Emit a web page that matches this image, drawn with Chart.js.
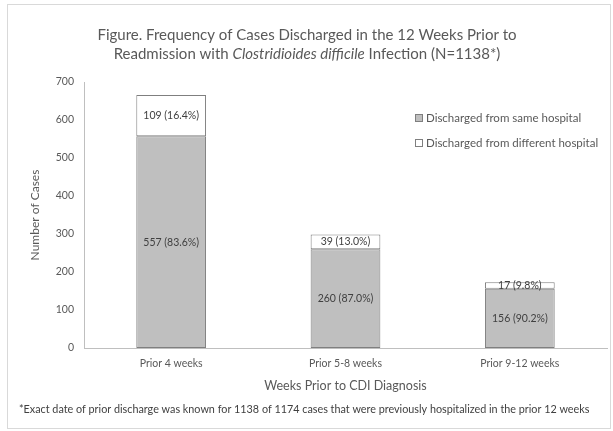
<!DOCTYPE html>
<html>
<head>
<meta charset="utf-8">
<script src="https://cdn.jsdelivr.net/npm/chart.js@4.4.1/dist/chart.umd.min.js"></script>
<style>
  html, body { margin: 0; padding: 0; background: #ffffff; }
  #wrap { width: 613px; height: 431px; position: relative; }
</style>
</head>
<body>
<div id="wrap"><canvas id="c" width="613" height="431"></canvas></div>
<script>
const categories = ['Prior 4 weeks', 'Prior 5-8 weeks', 'Prior 9-12 weeks'];
const sameHospital = [557, 260, 156];
const differentHospital = [109, 39, 17];
const samePct = ['83.6%', '87.0%', '90.2%'];
const differentPct = ['16.4%', '13.0%', '9.8%'];
const seriesNames = ['Discharged from same hospital', 'Discharged from different hospital'];
const yMax = 700;
const yStep = 100;
const titleLine1 = 'Figure. Frequency of Cases Discharged in the 12 Weeks Prior to';
const titleLine2 = [['Readmission with ', false], ['Clostridioides difficile', true], [' Infection (N=1138*)', false]];
const xTitle = 'Weeks Prior to CDI Diagnosis';
const yTitle = 'Number of Cases';
const footnote = '*Exact date of prior discharge was known for 1138 of 1174 cases that were previously hospitalized in the prior 12 weeks';

const FONT = 'Lato, "Open Sans", sans-serif';
const TXT = '#595959';

const framePlugin = {
  id: 'frame',
  beforeDraw(chart) {
    const ctx = chart.ctx;
    ctx.save();
    ctx.fillStyle = '#ffffff';
    ctx.fillRect(0, 0, chart.width, chart.height);
    ctx.strokeStyle = '#d9d9d9';
    ctx.lineWidth = 1;
    ctx.strokeRect(7.5, 4.5, 603, 424);
    ctx.restore();
  },
  afterDraw(chart) {
    const ctx = chart.ctx;
    ctx.save();
    // title
    ctx.fillStyle = TXT;
    ctx.textBaseline = 'middle';
    ctx.textAlign = 'center';
    ctx.font = '15px ' + FONT;
    ctx.fillText(titleLine1, 307, 35);
    let total = 0;
    titleLine2.forEach(([t, it]) => {
      ctx.font = (it ? 'italic ' : '') + '15px ' + FONT;
      total += ctx.measureText(t).width;
    });
    let x = 307 - total / 2;
    ctx.textAlign = 'left';
    titleLine2.forEach(([t, it]) => {
      ctx.font = (it ? 'italic ' : '') + '15px ' + FONT;
      ctx.fillText(t, x, 54);
      x += ctx.measureText(t).width;
    });
    // legend
    const ds = chart.data.datasets;
    ctx.font = '11.5px ' + FONT;
    ds.forEach((d, i) => {
      const ly = 118 + i * 25;
      ctx.fillStyle = d.backgroundColor;
      ctx.fillRect(415.5, ly - 3.5, 7, 7);
      ctx.strokeStyle = '#7f7f7f';
      ctx.lineWidth = 1;
      ctx.strokeRect(415.5, ly - 3.5, 7, 7);
      ctx.fillStyle = TXT;
      ctx.fillText(d.label, 426, ly);
    });
    // footnote
    ctx.fillStyle = '#404040';
    ctx.font = '10.8px ' + FONT;
    ctx.textAlign = 'left';
    ctx.fillText(footnote, 19, 410);
    ctx.restore();
  }
};

const labelPlugin = {
  id: 'segLabels',
  afterDatasetsDraw(chart) {
    const ctx = chart.ctx;
    ctx.save();
    ctx.font = '10.5px ' + FONT;
    ctx.fillStyle = '#404040';
    ctx.textAlign = 'center';
    ctx.textBaseline = 'middle';
    chart.data.datasets.forEach((d, di) => {
      const meta = chart.getDatasetMeta(di);
      meta.data.forEach((el, i) => {
        const p = el.getProps(['x', 'y', 'base'], true);
        const txt = d.data[i] + ' (' + d.pcts[i] + ')';
        ctx.fillText(txt, p.x, (p.y + p.base) / 2);
      });
    });
    ctx.restore();
  }
};

new Chart(document.getElementById('c'), {
  type: 'bar',
  data: {
    labels: categories,
    datasets: [
      { label: seriesNames[0], data: sameHospital, pcts: samePct, backgroundColor: '#bfbfbf', borderColor: '#7f7f7f', borderWidth: 1, borderSkipped: false },
      { label: seriesNames[1], data: differentHospital, pcts: differentPct, backgroundColor: '#ffffff', borderColor: '#7f7f7f', borderWidth: 1, borderSkipped: false }
    ]
  },
  options: {
    responsive: false,
    animation: false,
    devicePixelRatio: 1,
    layout: { padding: { left: 20, right: 6, top: 82, bottom: 38 } },
    datasets: { bar: { categoryPercentage: 1, barPercentage: 0.4 } },
    plugins: { legend: { display: false }, tooltip: { enabled: false }, title: { display: false } },
    scales: {
      x: {
        stacked: true,
        grid: { display: false, drawTicks: false },
        border: { display: true, color: '#bfbfbf', width: 1 },
        ticks: { color: TXT, font: { family: FONT, size: 10.5 }, padding: 9, maxRotation: 0 },
        title: { display: true, text: xTitle, color: TXT, font: { family: FONT, size: 12.5 }, padding: { top: 0, bottom: 0 } },
        afterFit(s) { s.height = 45; }
      },
      y: {
        stacked: true,
        min: 0, max: yMax,
        grid: { display: false, drawTicks: false },
        border: { display: true, color: '#bfbfbf', width: 1 },
        ticks: { stepSize: yStep, color: TXT, font: { family: FONT, size: 10.5 }, padding: 10 },
        title: { display: true, text: yTitle, color: TXT, font: { family: FONT, size: 12 }, padding: { top: 8, bottom: 0 } },
        afterFit(s) { s.width = 64; }
      }
    }
  },
  plugins: [framePlugin, labelPlugin]
});
</script>
</body>
</html>
